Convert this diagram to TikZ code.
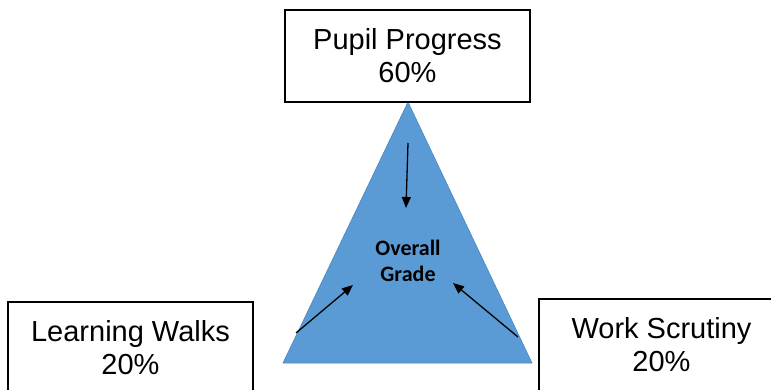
\documentclass[tikz,border=0pt]{standalone}
\usepackage{fontspec}
\setmainfont{Liberation Sans}
\newfontfamily\gradefont{Carlito}
\usepackage{tikz}
\usetikzlibrary{arrows.meta}

\definecolor{triblue}{HTML}{5B9BD5}
\definecolor{triedge}{HTML}{4A86BE}

\begin{document}
\begin{tikzpicture}[x=1pt,y=-1pt,
    part/.style={draw,line width=1.4pt,fill=white,minimum width=245pt,minimum height=92pt,
      align=center,font=\fontsize{29}{33}\selectfont},
    weight/.style={-{Triangle[length=11pt,width=9pt]},line width=1.3pt}]
    \useasboundingbox (0,0) rectangle (771,390);
    % the triangle
    \coordinate (apex)   at (408,102);
    \coordinate (base_l) at (283,363);
    \coordinate (base_r) at (532,363);
    \filldraw[fill=triblue,draw=triedge,line width=0.6pt] (apex) -- (base_l) -- (base_r) -- cycle;
    \node[align=center,font=\gradefont\bfseries\fontsize{22}{26}\selectfont] (grade) at (408,261) {Overall\\Grade};
    % the three parts
    \node[part] (pupil)    at (407.5,56)  {Pupil Progress\\60\%};
    \node[part] (walks)    at (130.5,348) {Learning Walks\\20\%};
    \node[part] (scrutiny) at (661.5,345) {Work Scrutiny\\20\%};
    % arrow ends
    \coordinate (top_s)   at (408,143);
    \coordinate (top_e)   at (406,208);
    \coordinate (left_s)  at (296,333);
    \coordinate (left_e)  at (353,285);
    \coordinate (right_s) at (518,337);
    \coordinate (right_e) at (453,283);
    \draw[weight] (top_s) -- (top_e);
    \draw[weight] (left_s) -- (left_e);
    \draw[weight] (right_s) -- (right_e);
\end{tikzpicture}
\end{document}
